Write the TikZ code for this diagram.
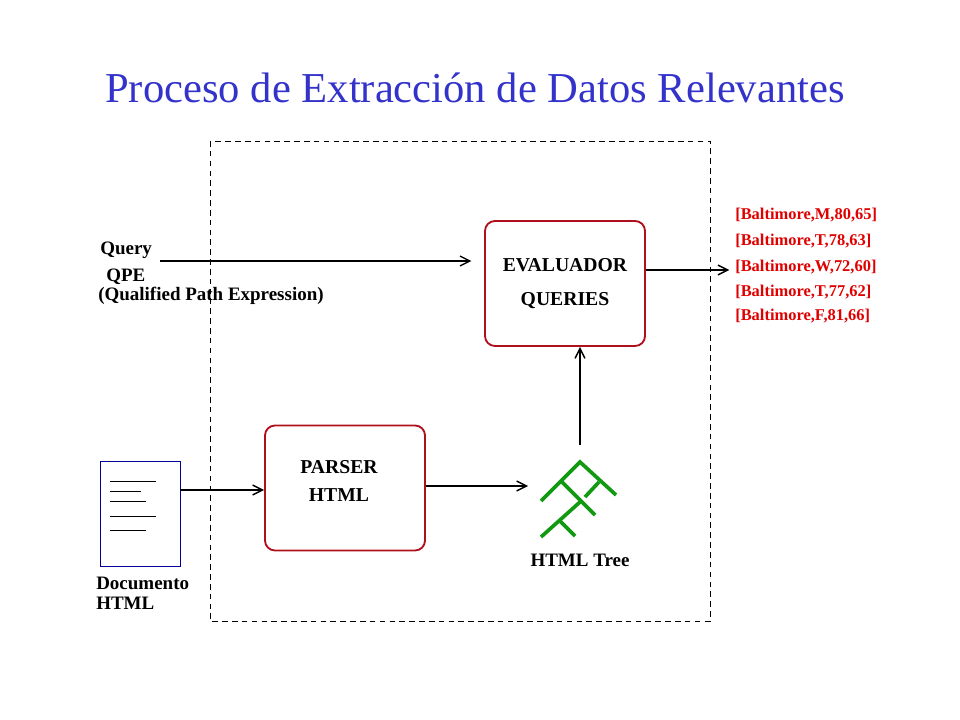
\documentclass[tikz,border=0pt]{standalone}
\usepackage{fontspec}
\setmainfont{Liberation Serif}
\usepackage{xcolor}
\definecolor{titleblue}{HTML}{3333CC}
\definecolor{boxred}{HTML}{B0101E}
\definecolor{resultred}{HTML}{E00000}
\definecolor{docblue}{HTML}{000099}
\definecolor{treegreen}{HTML}{119911}
\usepackage{tikz}
\usetikzlibrary{%
      arrows.meta,%
  positioning%
  }

\tikzset{
  procbox/.style={draw=boxred,line width=1.3pt,rounded corners=0.25cm,
    minimum width=4cm,minimum height=3.125cm,align=center,
    font=\bfseries\fontsize{14}{24}\selectfont},
  flow/.style={line width=1pt,-{Straight Barb[length=7pt,width=7pt]}},
  plainlabel/.style={font=\bfseries\fontsize{13.5}{14}\selectfont,inner sep=0pt},
  resultlabel/.style={font=\bfseries\fontsize{11.7}{12}\selectfont,text=resultred,inner sep=0pt,anchor=west}
}

\begin{document}
\begin{tikzpicture}[x=0.025cm,y=-0.025cm]
    \useasboundingbox (0,0) rectangle (960,720);
    \fill[white] (0,0) rectangle (960,720);
    % title
    \node[text=titleblue,font=\fontsize{30.3}{34}\selectfont] (title) at (475,88) {Proceso de Extracción de Datos Relevantes};
    % frame of the process
    \draw[dashed,line width=0.5pt,dash pattern=on 4pt off 3pt] (210,141) rectangle (710,621);
    % main boxes
    \node[procbox] (evaluador) at (565,283.5) {EVALUADOR\\QUERIES};
    \node[procbox] (parser) at (345,488) {};
    \node[font=\bfseries\fontsize{14}{20}\selectfont,align=center] (parsertext) at (339,481) {PARSER\\HTML};
  %   \node[procbox] (tree) at (580,500) {};
    % document
    \node[draw=docblue,line width=0.6pt,minimum width=2cm,minimum height=2.625cm,inner sep=0pt] (doc) at (140,513.5) {};
    \draw[line width=0.6pt] (110,481) -- (156,481);
    \draw[line width=0.6pt] (110,491) -- (141,491);
    \draw[line width=0.6pt] (110,501) -- (146,501);
    \draw[line width=0.6pt] (110,516) -- (156,516);
    \draw[line width=0.6pt] (110,530) -- (146,530);
    \node[plainlabel,align=left,anchor=north west] (doclabel) at (96,577) {Documento\\HTML};
    % tree
    \begin{scope}[treegreen,line width=2.6pt]
      \draw (541,501) -- (580,462) -- (616,495);
      \draw (562,482) -- (595,515);
      \draw (599,482) -- (585,497);
      \draw (580,502) -- (541,537);
      \draw (560,521) -- (575,536);
    \end{scope}
    \coordinate (treetop) at (580,445);
    \coordinate (treeleft) at (528,486);
    \node[plainlabel] (treelabel) at (580,560) {HTML Tree};
    % query
    \node[plainlabel,anchor=west] (query) at (100,250) {Query};
    \node[plainlabel,anchor=west] (qpe) at (106,277) {QPE};
    \node[plainlabel,anchor=west] (qpelong) at (98,296) {(Qualified Path Expression)};
    \coordinate (querystart) at (160,261);
    % results
    \node[resultlabel] (r1) at (735,215) {[Baltimore,M,80,65]};
    \node[resultlabel] (r2) at (735,241) {[Baltimore,T,78,63]};
    \node[resultlabel] (r3) at (735,267) {[Baltimore,W,72,60]};
    \node[resultlabel] (r4) at (735,292) {[Baltimore,T,77,62]};
    \node[resultlabel] (r5) at (735,316) {[Baltimore,F,81,66]};
    % connectors
    \draw[flow] (doc.east |- 0,490) -- (parser.west |- 0,490);
    \draw[flow] (parser.east |- treeleft) -- (treeleft);
    \draw[flow] (treetop) -- (treetop |- evaluador.south);
    \draw[flow,shorten >=9pt] (querystart) -- (evaluador.west |- querystart);
    \draw[flow,shorten >=4pt] (evaluador.east |- 0,270) -- (r3.west |- 0,270);
    \end{tikzpicture}
\end{document}
